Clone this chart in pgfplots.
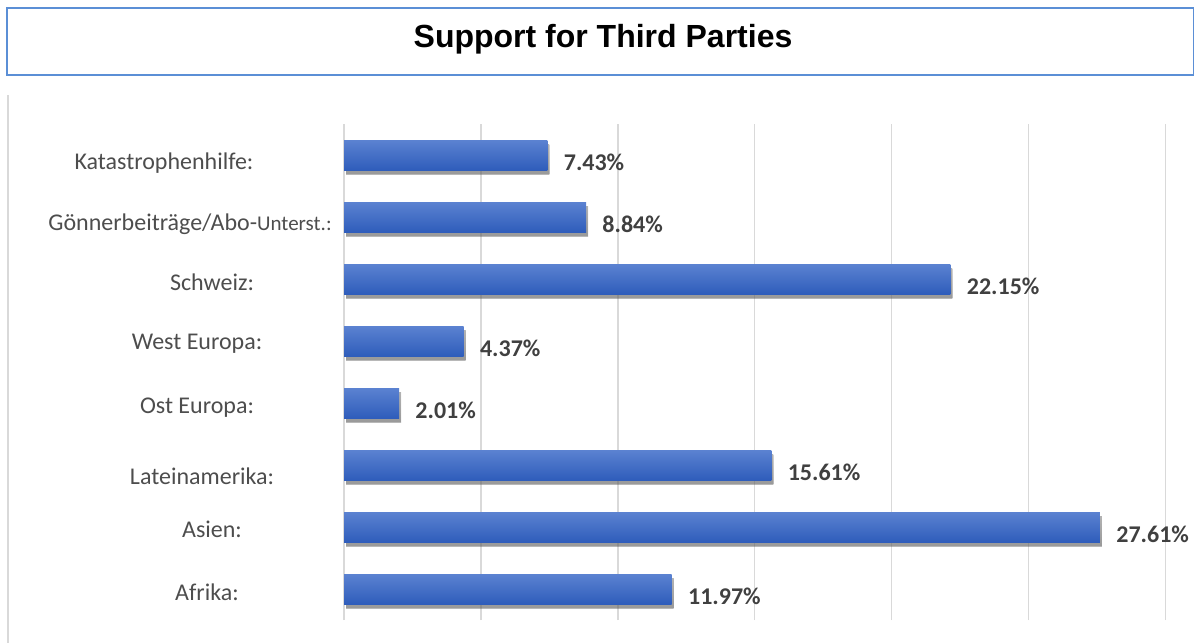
\documentclass[border=0pt]{standalone}
\usepackage{fontspec}
\setmainfont{Carlito}
\newfontfamily\arialfont{Liberation Sans}
\usepackage{pgfplots}
\pgfplotsset{compat=1.18}
\usetikzlibrary{shadows}
\definecolor{gridc}{HTML}{D9D9D9}
\definecolor{txtc}{HTML}{4D4D4D}
\definecolor{valc}{HTML}{404040}
\definecolor{bartop}{HTML}{5B82D1}
\definecolor{barbot}{HTML}{2F5DBB}
\definecolor{boxc}{HTML}{5B8FD6}
\newcommand\lab[3]{\raisebox{#2}[0pt][0pt]{\makebox[0pt][c]{\hspace*{#1}#3}}}
\pgfplotsset{mybar/.style={xbar, bar width=15pt, draw=none, top color=bartop, bottom color=barbot,
  drop shadow={shadow xshift=1pt, shadow yshift=-2pt, opacity=0.4, top color=black!45, bottom color=black!70},
  point meta=x,
  nodes near coords={\pgfmathprintnumber[fixed,fixed zerofill,precision=2]{\pgfplotspointmeta}\%},
  every node near coord/.append style={anchor=west, inner sep=0pt, xshift=8pt, yshift=-3.5pt,
    text=valc, font=\fontsize{12}{14}\selectfont\bfseries, /pgf/number format/assume math mode=true}}}
\begin{document}
\begin{tikzpicture}
\begin{scope}[x=0.5pt,y=-0.5pt]
\path[use as bounding box] (0,0) rectangle (1195,643);
\draw[boxc, line width=0.9pt] (7,8) rectangle (1193.5,75);
\node[font=\arialfont\fontsize{16}{18}\selectfont\bfseries, text=black] at (603,39) {Support for Third Parties};
\draw[gridc, line width=1pt] (8,95) -- (8,643);
\end{scope}
\begin{axis}[
  at={(172pt,-310pt)}, anchor=south west,
  scale only axis, width=410.7pt, height=248pt,
  xmin=0, xmax=30, ymin=0.5, ymax=8.5,
  xtick={0,5,...,30}, xticklabels={},
  xmajorgrids, grid style={gridc, line width=0.75pt},
  axis line style={draw=none},
  major tick length=0pt,
  ytick={1,...,8},
  yticklabels={
    \lab{7pt}{-5.9pt}{Afrika:},
    \lab{12pt}{-5.4pt}{Asien:},
    \lab{2pt}{-9.9pt}{Lateinamerika:},
    \lab{-3pt}{-5.4pt}{Ost Europa:},
    \lab{-3pt}{-4.4pt}{West Europa:},
    \lab{12pt}{-5.9pt}{Schweiz:},
    \lab{-10pt}{-6.9pt}{Gönnerbeiträge/Abo-{\fontsize{10.5}{12}\selectfont Unterst.:}},
    \lab{-36pt}{-7.4pt}{Katastrophenhilfe:}},
  yticklabel style={anchor=center, xshift=-72pt, text=txtc, font=\fontsize{12}{14}\selectfont},
  clip=false,
]
\addplot[mybar] coordinates {(11.97,1)};
\addplot[mybar] coordinates {(27.61,2)};
\addplot[mybar] coordinates {(15.61,3)};
\addplot[mybar] coordinates {(2.01,4)};
\addplot[mybar] coordinates {(4.37,5)};
\addplot[mybar] coordinates {(22.15,6)};
\addplot[mybar] coordinates {(8.84,7)};
\addplot[mybar] coordinates {(7.43,8)};
\end{axis}
\end{tikzpicture}
\end{document}
